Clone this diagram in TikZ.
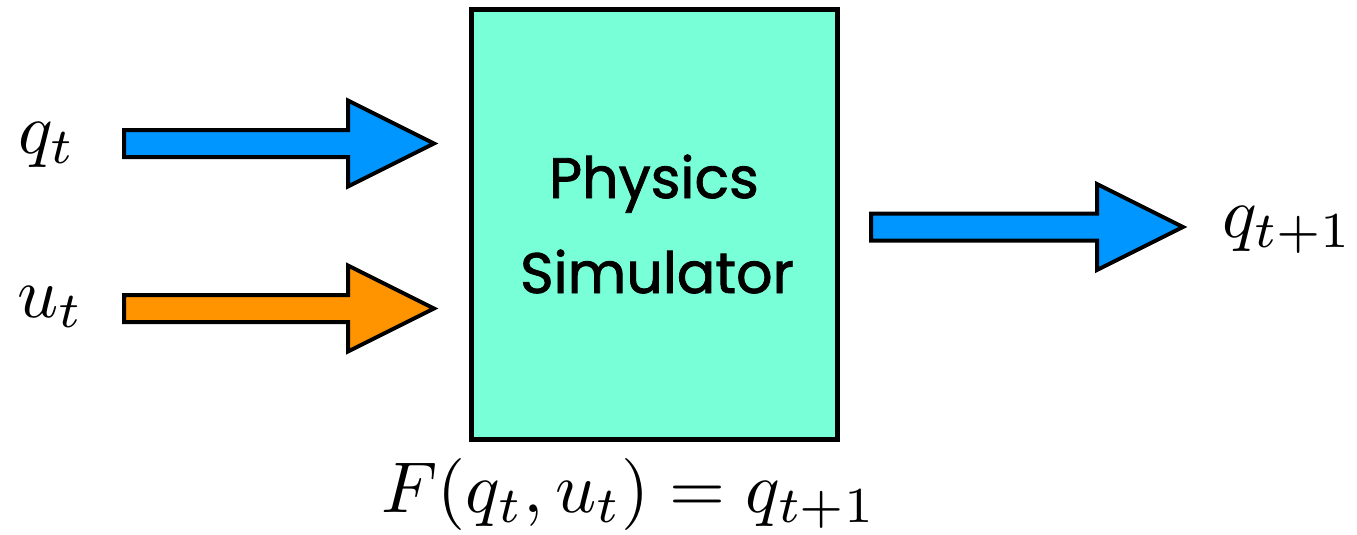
\documentclass[tikz,border=0pt]{standalone}
\usepackage{fontspec}
\newfontfamily\geofont{Poppins}[FakeBold=1.5]
\usetikzlibrary{calc}
\definecolor{simfill}{HTML}{78FFD8}
\definecolor{qblue}{HTML}{0096FF}
\definecolor{uorange}{HTML}{FF9400}
\tikzset{
  fatarrow/.style={draw=black, line width=4pt, line join=miter, miter limit=10},
  simbox/.style={draw=black, fill=simfill, line width=5pt},
  mathlabel/.style={inner sep=0pt, scale=7.2},
  boxtext/.style={inner sep=0pt, font=\geofont\fontsize{57}{70}\selectfont},
}
\newcommand{\fatarrowpath}[3]{%
  \draw[fatarrow, fill=#3] ($(#1)+(0,13.5)$) -- ($(#2)+(-86,13.5)$) -- ($(#2)+(-86,43)$)
    -- (#2) -- ($(#2)+(-86,-43)$) -- ($(#2)+(-86,-13.5)$) -- ($(#1)+(0,-13.5)$) -- cycle;}
\begin{document}
\begin{tikzpicture}[x=1pt,y=-1pt]
\useasboundingbox (0,0) rectangle (1357,535);
% box
\node[simbox, minimum width=366pt, minimum height=430pt, inner sep=0pt] (sim) at (654.5,224.5) {};
\node[boxtext, anchor=base] (phys) at (654,198) {Physics};
\node[boxtext, anchor=base] (simu) at (657,293) {Simulator};
% labels
\node[mathlabel, anchor=base west] (q) at (17,153) {$q_t$};
\node[mathlabel, anchor=base west] (u) at (16,317) {$u_t$};
\node[mathlabel, anchor=base west] (qn) at (1221,237) {$q_{t+1}$};
\node[mathlabel, anchor=base] (eq) at (629,512) {$F(q_t,u_t)=q_{t+1}$};
% arrow ends
\coordinate (qs) at (124,143.5);
\coordinate (qe) at (434,143.5);
\coordinate (us) at (124,308.5);
\coordinate (ue) at (434,308.5);
\coordinate (os) at (871,227);
\coordinate (oe) at (1183,227);
\fatarrowpath{qs}{qe}{qblue}
\fatarrowpath{us}{ue}{uorange}
\fatarrowpath{os}{oe}{qblue}
\end{tikzpicture}
\end{document}
